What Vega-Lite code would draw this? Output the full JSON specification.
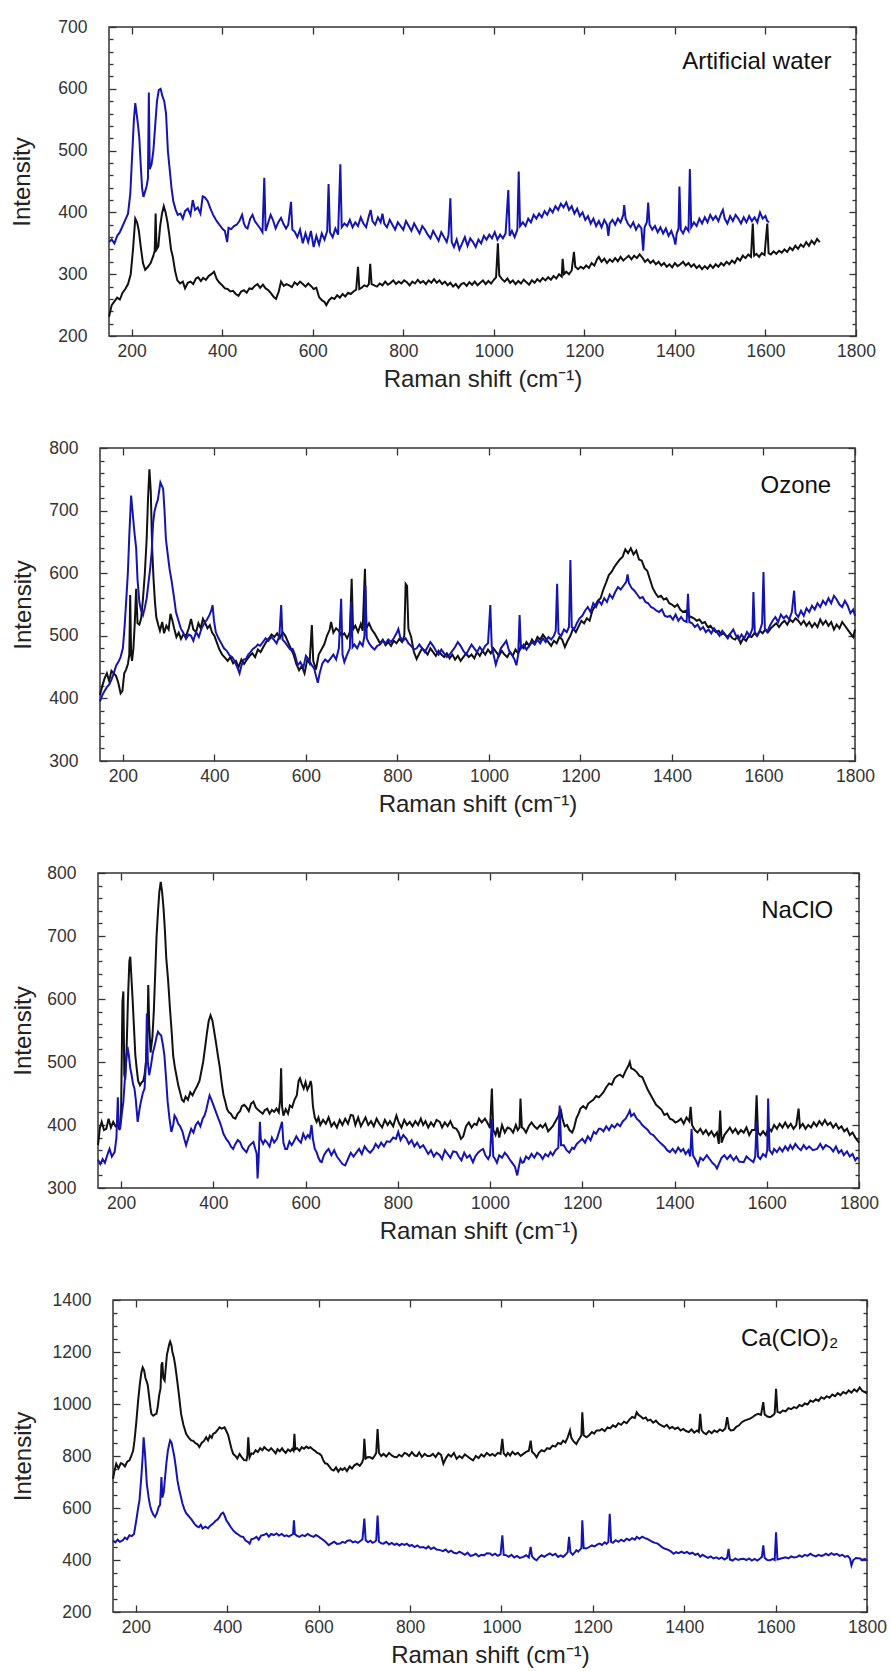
{
"$schema": "https://vega.github.io/schema/vega-lite/v6.json",
"padding": {"left": 9, "top": 17, "right": 5, "bottom": 5},
"background": "white",
"spacing": 45,
"config": {
  "view": {"stroke": "#333", "strokeWidth": 1.5},
  "axis": {"labelFont": "Liberation Sans", "titleFont": "Liberation Sans", "labelColor": "#333", "titleColor": "#222", "titleFontWeight": "normal", "labelFontSize": 17.5, "titleFontSize": 24, "tickColor": "#333", "tickWidth": 1.3, "domain": false, "grid": false, "labelOverlap": false, "labelFlush": false, "format": "d"},
  "text": {"font": "Liberation Sans"}
},
"datasets": {
"p1k": [{"x":150,"y":231},{"x":156,"y":250},{"x":162,"y":256},{"x":168,"y":262},{"x":174,"y":259},{"x":180,"y":270},{"x":186,"y":276},{"x":192,"y":284},{"x":198,"y":300},{"x":203,"y":340},{"x":208,"y":390},{"x":212,"y":384},{"x":216,"y":370},{"x":220,"y":345},{"x":225,"y":318},{"x":230,"y":307},{"x":236,"y":312},{"x":242,"y":318},{"x":248,"y":330},{"x":251,"y":338},{"x":253,"y":398},{"x":255,"y":340},{"x":259,"y":345},{"x":263,"y":378},{"x":267,"y":398},{"x":271,"y":410},{"x":275,"y":400},{"x":279,"y":385},{"x":283,"y":365},{"x":287,"y":340},{"x":291,"y":328},{"x":296,"y":305},{"x":301,"y":290},{"x":307,"y":285},{"x":313,"y":288},{"x":318,"y":277},{"x":324,"y":286},{"x":330,"y":288},{"x":336,"y":284},{"x":342,"y":293},{"x":347,"y":295},{"x":353,"y":289},{"x":358,"y":294},{"x":364,"y":291},{"x":370,"y":297},{"x":376,"y":300},{"x":382,"y":304},{"x":388,"y":292},{"x":394,"y":286},{"x":400,"y":282},{"x":406,"y":277},{"x":412,"y":276},{"x":418,"y":272},{"x":424,"y":273},{"x":430,"y":268},{"x":436,"y":265},{"x":442,"y":272},{"x":448,"y":274},{"x":454,"y":270},{"x":460,"y":277},{"x":466,"y":276},{"x":472,"y":281},{"x":478,"y":284},{"x":484,"y":278},{"x":490,"y":283},{"x":496,"y":277},{"x":502,"y":274},{"x":508,"y":269},{"x":514,"y":263},{"x":519,"y":260},{"x":525,"y":272},{"x":530,"y":288},{"x":536,"y":281},{"x":542,"y":284},{"x":548,"y":282},{"x":554,"y":279},{"x":560,"y":287},{"x":566,"y":283},{"x":572,"y":288},{"x":578,"y":284},{"x":584,"y":280},{"x":590,"y":285},{"x":596,"y":281},{"x":602,"y":276},{"x":608,"y":278},{"x":614,"y":263},{"x":620,"y":258},{"x":626,"y":255},{"x":630,"y":250},{"x":636,"y":258},{"x":642,"y":262},{"x":648,"y":260},{"x":654,"y":266},{"x":660,"y":262},{"x":666,"y":268},{"x":672,"y":264},{"x":678,"y":270},{"x":684,"y":268},{"x":690,"y":272},{"x":696,"y":275},{"x":700,"y":312},{"x":703,"y":276},{"x":708,"y":278},{"x":714,"y":282},{"x":720,"y":280},{"x":724,"y":284},{"x":727,"y":317},{"x":730,"y":284},{"x":736,"y":282},{"x":742,"y":280},{"x":748,"y":285},{"x":754,"y":282},{"x":760,"y":288},{"x":766,"y":283},{"x":772,"y":286},{"x":778,"y":290},{"x":784,"y":284},{"x":790,"y":288},{"x":796,"y":285},{"x":802,"y":290},{"x":808,"y":287},{"x":814,"y":282},{"x":820,"y":288},{"x":826,"y":285},{"x":832,"y":291},{"x":838,"y":286},{"x":844,"y":289},{"x":850,"y":284},{"x":856,"y":290},{"x":862,"y":286},{"x":868,"y":292},{"x":874,"y":286},{"x":880,"y":290},{"x":886,"y":284},{"x":892,"y":288},{"x":898,"y":282},{"x":904,"y":286},{"x":910,"y":280},{"x":916,"y":284},{"x":922,"y":278},{"x":928,"y":284},{"x":934,"y":286},{"x":940,"y":281},{"x":946,"y":287},{"x":952,"y":283},{"x":958,"y":288},{"x":964,"y":282},{"x":970,"y":286},{"x":976,"y":290},{"x":982,"y":284},{"x":988,"y":289},{"x":994,"y":285},{"x":1000,"y":291},{"x":1005,"y":295},{"x":1009,"y":350},{"x":1012,"y":298},{"x":1018,"y":292},{"x":1024,"y":288},{"x":1030,"y":293},{"x":1036,"y":286},{"x":1042,"y":290},{"x":1048,"y":284},{"x":1054,"y":289},{"x":1060,"y":285},{"x":1066,"y":291},{"x":1072,"y":287},{"x":1078,"y":283},{"x":1084,"y":290},{"x":1090,"y":286},{"x":1096,"y":292},{"x":1102,"y":288},{"x":1108,"y":294},{"x":1114,"y":290},{"x":1120,"y":295},{"x":1126,"y":291},{"x":1132,"y":297},{"x":1138,"y":293},{"x":1144,"y":300},{"x":1150,"y":296},{"x":1152,"y":325},{"x":1155,"y":300},{"x":1160,"y":304},{"x":1166,"y":300},{"x":1172,"y":306},{"x":1177,"y":336},{"x":1180,"y":312},{"x":1186,"y":308},{"x":1192,"y":312},{"x":1198,"y":309},{"x":1204,"y":314},{"x":1210,"y":310},{"x":1216,"y":318},{"x":1222,"y":314},{"x":1228,"y":324},{"x":1232,"y":328},{"x":1238,"y":320},{"x":1244,"y":325},{"x":1250,"y":318},{"x":1256,"y":324},{"x":1262,"y":320},{"x":1268,"y":326},{"x":1274,"y":321},{"x":1280,"y":328},{"x":1286,"y":322},{"x":1292,"y":326},{"x":1298,"y":330},{"x":1304,"y":324},{"x":1310,"y":330},{"x":1316,"y":326},{"x":1322,"y":332},{"x":1328,"y":327},{"x":1334,"y":320},{"x":1340,"y":324},{"x":1346,"y":318},{"x":1352,"y":322},{"x":1358,"y":316},{"x":1364,"y":320},{"x":1370,"y":314},{"x":1376,"y":318},{"x":1382,"y":312},{"x":1388,"y":316},{"x":1394,"y":311},{"x":1400,"y":318},{"x":1406,"y":313},{"x":1412,"y":316},{"x":1418,"y":320},{"x":1424,"y":314},{"x":1430,"y":318},{"x":1436,"y":312},{"x":1442,"y":316},{"x":1448,"y":310},{"x":1454,"y":314},{"x":1460,"y":308},{"x":1466,"y":313},{"x":1472,"y":309},{"x":1478,"y":315},{"x":1484,"y":310},{"x":1490,"y":316},{"x":1496,"y":312},{"x":1502,"y":318},{"x":1508,"y":314},{"x":1514,"y":320},{"x":1520,"y":316},{"x":1526,"y":322},{"x":1532,"y":318},{"x":1538,"y":326},{"x":1544,"y":322},{"x":1550,"y":330},{"x":1556,"y":326},{"x":1562,"y":332},{"x":1568,"y":328},{"x":1572,"y":382},{"x":1575,"y":330},{"x":1580,"y":333},{"x":1586,"y":328},{"x":1592,"y":334},{"x":1598,"y":331},{"x":1604,"y":382},{"x":1607,"y":334},{"x":1612,"y":332},{"x":1618,"y":337},{"x":1624,"y":333},{"x":1630,"y":338},{"x":1636,"y":335},{"x":1642,"y":340},{"x":1648,"y":336},{"x":1654,"y":343},{"x":1660,"y":339},{"x":1666,"y":346},{"x":1672,"y":341},{"x":1678,"y":348},{"x":1684,"y":344},{"x":1690,"y":352},{"x":1696,"y":346},{"x":1702,"y":354},{"x":1708,"y":349},{"x":1714,"y":357},{"x":1720,"y":352}],
"p1b": [{"x":150,"y":352},{"x":156,"y":356},{"x":162,"y":350},{"x":168,"y":362},{"x":174,"y":368},{"x":180,"y":378},{"x":186,"y":388},{"x":192,"y":398},{"x":197,"y":430},{"x":201,"y":490},{"x":205,"y":550},{"x":208,"y":577},{"x":211,"y":560},{"x":214,"y":542},{"x":217,"y":520},{"x":220,"y":478},{"x":223,"y":440},{"x":226,"y":425},{"x":229,"y":432},{"x":233,"y":442},{"x":236,"y":455},{"x":238,"y":594},{"x":240,"y":470},{"x":244,"y":478},{"x":248,"y":500},{"x":252,"y":540},{"x":256,"y":580},{"x":260,"y":598},{"x":264,"y":600},{"x":268,"y":588},{"x":272,"y":580},{"x":276,"y":560},{"x":280,"y":500},{"x":284,"y":470},{"x":288,"y":440},{"x":292,"y":418},{"x":297,"y":405},{"x":302,"y":396},{"x":308,"y":398},{"x":313,"y":390},{"x":318,"y":402},{"x":324,"y":406},{"x":330,"y":396},{"x":335,"y":420},{"x":340,"y":404},{"x":346,"y":408},{"x":352,"y":398},{"x":357,"y":426},{"x":362,"y":424},{"x":368,"y":418},{"x":374,"y":406},{"x":380,"y":396},{"x":386,"y":388},{"x":390,"y":384},{"x":396,"y":378},{"x":401,"y":373},{"x":406,"y":370},{"x":411,"y":352},{"x":414,"y":375},{"x":420,"y":373},{"x":426,"y":378},{"x":432,"y":380},{"x":438,"y":386},{"x":444,"y":396},{"x":448,"y":382},{"x":452,"y":376},{"x":456,"y":374},{"x":462,"y":390},{"x":467,"y":396},{"x":472,"y":386},{"x":478,"y":380},{"x":484,"y":374},{"x":489,"y":368},{"x":493,"y":456},{"x":496,"y":370},{"x":502,"y":384},{"x":507,"y":396},{"x":512,"y":388},{"x":518,"y":374},{"x":524,"y":384},{"x":530,"y":391},{"x":535,"y":382},{"x":541,"y":374},{"x":546,"y":380},{"x":552,"y":417},{"x":555,"y":372},{"x":560,"y":369},{"x":566,"y":360},{"x":572,"y":372},{"x":578,"y":350},{"x":584,"y":366},{"x":590,"y":352},{"x":596,"y":370},{"x":602,"y":344},{"x":608,"y":362},{"x":614,"y":348},{"x":620,"y":366},{"x":626,"y":356},{"x":632,"y":370},{"x":635,"y":446},{"x":638,"y":368},{"x":644,"y":360},{"x":650,"y":374},{"x":656,"y":364},{"x":661,"y":478},{"x":664,"y":376},{"x":670,"y":382},{"x":676,"y":378},{"x":682,"y":388},{"x":688,"y":376},{"x":694,"y":384},{"x":700,"y":378},{"x":706,"y":392},{"x":712,"y":382},{"x":718,"y":376},{"x":724,"y":394},{"x":728,"y":404},{"x":732,"y":386},{"x":738,"y":380},{"x":744,"y":392},{"x":750,"y":384},{"x":754,"y":398},{"x":758,"y":382},{"x":764,"y":376},{"x":770,"y":388},{"x":776,"y":380},{"x":782,"y":372},{"x":788,"y":384},{"x":794,"y":378},{"x":800,"y":372},{"x":806,"y":386},{"x":812,"y":378},{"x":818,"y":370},{"x":824,"y":382},{"x":830,"y":374},{"x":836,"y":366},{"x":842,"y":378},{"x":848,"y":372},{"x":854,"y":364},{"x":860,"y":358},{"x":866,"y":370},{"x":872,"y":362},{"x":878,"y":354},{"x":884,"y":368},{"x":890,"y":360},{"x":896,"y":352},{"x":900,"y":364},{"x":904,"y":423},{"x":907,"y":352},{"x":912,"y":344},{"x":918,"y":356},{"x":924,"y":340},{"x":930,"y":350},{"x":936,"y":360},{"x":942,"y":346},{"x":948,"y":358},{"x":954,"y":352},{"x":960,"y":344},{"x":966,"y":356},{"x":972,"y":350},{"x":978,"y":362},{"x":984,"y":356},{"x":990,"y":364},{"x":996,"y":358},{"x":1002,"y":368},{"x":1008,"y":356},{"x":1014,"y":364},{"x":1020,"y":358},{"x":1026,"y":366},{"x":1032,"y":436},{"x":1035,"y":362},{"x":1040,"y":370},{"x":1046,"y":360},{"x":1052,"y":372},{"x":1055,"y":466},{"x":1058,"y":378},{"x":1064,"y":384},{"x":1070,"y":378},{"x":1076,"y":390},{"x":1082,"y":384},{"x":1088,"y":396},{"x":1094,"y":390},{"x":1100,"y":398},{"x":1106,"y":392},{"x":1112,"y":402},{"x":1118,"y":396},{"x":1124,"y":406},{"x":1130,"y":400},{"x":1136,"y":410},{"x":1142,"y":404},{"x":1148,"y":414},{"x":1154,"y":408},{"x":1160,"y":416},{"x":1166,"y":404},{"x":1172,"y":410},{"x":1178,"y":398},{"x":1184,"y":406},{"x":1190,"y":394},{"x":1196,"y":400},{"x":1202,"y":388},{"x":1208,"y":394},{"x":1214,"y":382},{"x":1220,"y":390},{"x":1226,"y":378},{"x":1232,"y":386},{"x":1238,"y":376},{"x":1244,"y":388},{"x":1250,"y":380},{"x":1253,"y":362},{"x":1256,"y":382},{"x":1262,"y":388},{"x":1268,"y":380},{"x":1274,"y":390},{"x":1280,"y":384},{"x":1286,"y":396},{"x":1288,"y":412},{"x":1291,"y":390},{"x":1296,"y":382},{"x":1302,"y":376},{"x":1308,"y":384},{"x":1314,"y":372},{"x":1320,"y":380},{"x":1326,"y":374},{"x":1330,"y":338},{"x":1333,"y":376},{"x":1338,"y":384},{"x":1341,"y":416},{"x":1344,"y":380},{"x":1350,"y":372},{"x":1356,"y":378},{"x":1362,"y":368},{"x":1368,"y":376},{"x":1374,"y":366},{"x":1380,"y":374},{"x":1386,"y":362},{"x":1392,"y":370},{"x":1398,"y":358},{"x":1401,"y":348},{"x":1404,"y":366},{"x":1408,"y":374},{"x":1410,"y":442},{"x":1413,"y":372},{"x":1418,"y":366},{"x":1424,"y":376},{"x":1430,"y":370},{"x":1433,"y":470},{"x":1436,"y":376},{"x":1442,"y":384},{"x":1448,"y":378},{"x":1454,"y":390},{"x":1460,"y":382},{"x":1466,"y":392},{"x":1472,"y":384},{"x":1478,"y":396},{"x":1484,"y":388},{"x":1490,"y":394},{"x":1496,"y":386},{"x":1502,"y":398},{"x":1506,"y":404},{"x":1510,"y":390},{"x":1516,"y":382},{"x":1522,"y":394},{"x":1528,"y":386},{"x":1534,"y":396},{"x":1540,"y":390},{"x":1546,"y":382},{"x":1552,"y":392},{"x":1558,"y":384},{"x":1564,"y":394},{"x":1570,"y":386},{"x":1576,"y":392},{"x":1582,"y":384},{"x":1588,"y":400},{"x":1594,"y":390},{"x":1600,"y":394},{"x":1604,"y":386},{"x":1608,"y":384}],
"p2k": [{"x":150,"y":405},{"x":155,"y":420},{"x":160,"y":432},{"x":165,"y":440},{"x":170,"y":428},{"x":175,"y":444},{"x":180,"y":440},{"x":185,"y":436},{"x":190,"y":425},{"x":195,"y":408},{"x":199,"y":412},{"x":203,"y":440},{"x":207,"y":446},{"x":211,"y":455},{"x":214,"y":470},{"x":216,"y":565},{"x":218,"y":470},{"x":220,"y":460},{"x":223,"y":480},{"x":226,"y":520},{"x":229,"y":575},{"x":232,"y":520},{"x":236,"y":518},{"x":240,"y":528},{"x":244,"y":560},{"x":248,"y":600},{"x":252,"y":655},{"x":255,"y":720},{"x":258,"y":766},{"x":261,"y":730},{"x":264,"y":640},{"x":267,"y":591},{"x":270,"y":555},{"x":273,"y":530},{"x":277,"y":518},{"x":281,"y":508},{"x":286,"y":522},{"x":290,"y":504},{"x":295,"y":516},{"x":300,"y":510},{"x":304,"y":535},{"x":308,"y":525},{"x":312,"y":512},{"x":317,"y":498},{"x":322,"y":505},{"x":327,"y":495},{"x":332,"y":502},{"x":338,"y":500},{"x":344,"y":512},{"x":349,"y":527},{"x":354,"y":510},{"x":360,"y":506},{"x":365,"y":520},{"x":370,"y":512},{"x":375,"y":527},{"x":380,"y":520},{"x":385,"y":512},{"x":390,"y":517},{"x":395,"y":505},{"x":400,"y":500},{"x":405,"y":490},{"x":411,"y":478},{"x":417,"y":470},{"x":423,"y":465},{"x":429,"y":460},{"x":435,"y":466},{"x":441,"y":456},{"x":447,"y":460},{"x":453,"y":450},{"x":459,"y":462},{"x":465,"y":455},{"x":471,"y":462},{"x":477,"y":468},{"x":483,"y":472},{"x":489,"y":466},{"x":495,"y":478},{"x":501,"y":474},{"x":507,"y":482},{"x":513,"y":490},{"x":519,"y":496},{"x":525,"y":502},{"x":531,"y":498},{"x":537,"y":504},{"x":543,"y":496},{"x":549,"y":506},{"x":555,"y":500},{"x":561,"y":490},{"x":567,"y":480},{"x":573,"y":470},{"x":579,"y":455},{"x":585,"y":445},{"x":591,"y":452},{"x":597,"y":440},{"x":603,"y":462},{"x":608,"y":456},{"x":613,"y":517},{"x":616,"y":460},{"x":622,"y":446},{"x":628,"y":470},{"x":634,"y":478},{"x":640,"y":486},{"x":646,"y":500},{"x":652,"y":510},{"x":655,"y":522},{"x":660,"y":505},{"x":666,"y":512},{"x":672,"y":508},{"x":678,"y":500},{"x":684,"y":504},{"x":690,"y":496},{"x":696,"y":506},{"x":700,"y":591},{"x":703,"y":510},{"x":708,"y":516},{"x":714,"y":506},{"x":720,"y":519},{"x":724,"y":508},{"x":729,"y":607},{"x":732,"y":512},{"x":738,"y":520},{"x":744,"y":510},{"x":750,"y":504},{"x":756,"y":496},{"x":762,"y":488},{"x":768,"y":494},{"x":774,"y":485},{"x":780,"y":490},{"x":786,"y":484},{"x":792,"y":492},{"x":798,"y":488},{"x":804,"y":495},{"x":810,"y":490},{"x":815,"y":500},{"x":818,"y":583},{"x":821,"y":580},{"x":824,"y":511},{"x":830,"y":498},{"x":836,"y":474},{"x":842,"y":463},{"x":848,"y":472},{"x":854,"y":480},{"x":860,"y":476},{"x":866,"y":470},{"x":872,"y":480},{"x":878,"y":474},{"x":884,"y":468},{"x":890,"y":476},{"x":896,"y":470},{"x":902,"y":466},{"x":908,"y":472},{"x":914,"y":464},{"x":920,"y":470},{"x":926,"y":462},{"x":932,"y":468},{"x":938,"y":460},{"x":944,"y":466},{"x":950,"y":472},{"x":956,"y":466},{"x":962,"y":470},{"x":968,"y":464},{"x":974,"y":474},{"x":980,"y":468},{"x":986,"y":476},{"x":992,"y":470},{"x":998,"y":478},{"x":1004,"y":472},{"x":1010,"y":480},{"x":1016,"y":474},{"x":1022,"y":468},{"x":1028,"y":476},{"x":1034,"y":470},{"x":1040,"y":466},{"x":1046,"y":474},{"x":1052,"y":468},{"x":1058,"y":478},{"x":1064,"y":472},{"x":1070,"y":484},{"x":1076,"y":480},{"x":1082,"y":490},{"x":1088,"y":484},{"x":1094,"y":494},{"x":1100,"y":488},{"x":1106,"y":498},{"x":1112,"y":494},{"x":1118,"y":502},{"x":1124,"y":496},{"x":1130,"y":490},{"x":1136,"y":484},{"x":1142,"y":492},{"x":1148,"y":488},{"x":1154,"y":498},{"x":1160,"y":494},{"x":1166,"y":482},{"x":1172,"y":492},{"x":1178,"y":500},{"x":1184,"y":512},{"x":1190,"y":506},{"x":1196,"y":515},{"x":1202,"y":524},{"x":1208,"y":520},{"x":1214,"y":528},{"x":1220,"y":524},{"x":1226,"y":540},{"x":1232,"y":548},{"x":1238,"y":556},{"x":1244,"y":560},{"x":1250,"y":574},{"x":1256,"y":585},{"x":1262,"y":597},{"x":1268,"y":602},{"x":1274,"y":610},{"x":1280,"y":616},{"x":1286,"y":622},{"x":1292,"y":626},{"x":1298,"y":638},{"x":1304,"y":632},{"x":1310,"y":640},{"x":1316,"y":630},{"x":1322,"y":636},{"x":1328,"y":622},{"x":1334,"y":620},{"x":1340,"y":608},{"x":1346,"y":604},{"x":1352,"y":590},{"x":1358,"y":576},{"x":1364,"y":568},{"x":1370,"y":562},{"x":1376,"y":564},{"x":1382,"y":558},{"x":1388,"y":560},{"x":1394,"y":552},{"x":1400,"y":550},{"x":1406,"y":546},{"x":1412,"y":550},{"x":1418,"y":542},{"x":1424,"y":538},{"x":1430,"y":540},{"x":1436,"y":532},{"x":1442,"y":530},{"x":1448,"y":528},{"x":1454,"y":524},{"x":1460,"y":526},{"x":1466,"y":520},{"x":1472,"y":522},{"x":1478,"y":514},{"x":1484,"y":516},{"x":1490,"y":510},{"x":1496,"y":506},{"x":1502,"y":508},{"x":1508,"y":502},{"x":1514,"y":504},{"x":1520,"y":498},{"x":1526,"y":502},{"x":1532,"y":496},{"x":1538,"y":494},{"x":1544,"y":500},{"x":1550,"y":488},{"x":1556,"y":496},{"x":1562,"y":492},{"x":1568,"y":500},{"x":1574,"y":498},{"x":1580,"y":504},{"x":1586,"y":500},{"x":1592,"y":508},{"x":1598,"y":504},{"x":1604,"y":510},{"x":1610,"y":506},{"x":1616,"y":512},{"x":1622,"y":516},{"x":1628,"y":520},{"x":1634,"y":514},{"x":1640,"y":520},{"x":1646,"y":524},{"x":1652,"y":518},{"x":1658,"y":526},{"x":1664,"y":522},{"x":1670,"y":528},{"x":1676,"y":524},{"x":1682,"y":518},{"x":1688,"y":524},{"x":1694,"y":516},{"x":1700,"y":522},{"x":1706,"y":514},{"x":1712,"y":520},{"x":1718,"y":514},{"x":1724,"y":526},{"x":1730,"y":518},{"x":1736,"y":524},{"x":1742,"y":516},{"x":1748,"y":522},{"x":1754,"y":510},{"x":1760,"y":518},{"x":1766,"y":512},{"x":1772,"y":522},{"x":1778,"y":516},{"x":1784,"y":510},{"x":1790,"y":504},{"x":1796,"y":498},{"x":1800,"y":510}],
"p2b": [{"x":150,"y":395},{"x":155,"y":405},{"x":160,"y":412},{"x":165,"y":418},{"x":170,"y":422},{"x":175,"y":430},{"x":180,"y":440},{"x":185,"y":452},{"x":190,"y":458},{"x":195,"y":466},{"x":200,"y":480},{"x":204,"y":517},{"x":208,"y":565},{"x":211,"y":602},{"x":214,"y":660},{"x":218,"y":724},{"x":221,"y":700},{"x":224,"y":675},{"x":226,"y":660},{"x":229,"y":640},{"x":232,"y":590},{"x":236,"y":554},{"x":240,"y":540},{"x":244,"y":533},{"x":248,"y":545},{"x":252,"y":560},{"x":256,"y":585},{"x":260,"y":610},{"x":263,"y":634},{"x":266,"y":680},{"x":269,"y":698},{"x":273,"y":710},{"x":276,"y":716},{"x":279,"y":730},{"x":282,"y":745},{"x":285,"y":740},{"x":288,"y":735},{"x":291,"y":700},{"x":294,"y":655},{"x":298,"y":630},{"x":302,"y":607},{"x":306,"y":590},{"x":309,"y":575},{"x":313,"y":555},{"x":316,"y":538},{"x":320,"y":528},{"x":324,"y":518},{"x":327,"y":511},{"x":332,"y":505},{"x":338,"y":495},{"x":344,"y":502},{"x":349,"y":500},{"x":354,"y":492},{"x":360,"y":506},{"x":366,"y":498},{"x":372,"y":512},{"x":378,"y":520},{"x":384,"y":526},{"x":389,"y":533},{"x":393,"y":540},{"x":396,"y":549},{"x":399,"y":525},{"x":403,"y":506},{"x":409,"y":496},{"x":415,"y":488},{"x":421,"y":480},{"x":427,"y":476},{"x":433,"y":469},{"x":439,"y":466},{"x":444,"y":460},{"x":448,"y":453},{"x":452,"y":446},{"x":455,"y":440},{"x":459,"y":452},{"x":464,"y":462},{"x":469,"y":463},{"x":474,"y":470},{"x":479,"y":474},{"x":484,"y":479},{"x":490,"y":482},{"x":495,"y":486},{"x":500,"y":484},{"x":506,"y":490},{"x":512,"y":496},{"x":518,"y":492},{"x":524,"y":498},{"x":530,"y":494},{"x":536,"y":488},{"x":542,"y":500},{"x":546,"y":549},{"x":549,"y":494},{"x":554,"y":490},{"x":560,"y":484},{"x":566,"y":478},{"x":571,"y":479},{"x":576,"y":470},{"x":582,"y":453},{"x":588,"y":458},{"x":594,"y":448},{"x":600,"y":468},{"x":606,"y":462},{"x":612,"y":454},{"x":618,"y":448},{"x":622,"y":436},{"x":626,"y":425},{"x":630,"y":440},{"x":636,"y":456},{"x":642,"y":462},{"x":648,"y":458},{"x":654,"y":464},{"x":660,"y":470},{"x":666,"y":462},{"x":672,"y":480},{"x":677,"y":559},{"x":680,"y":470},{"x":684,"y":458},{"x":690,"y":470},{"x":696,"y":480},{"x":699,"y":554},{"x":702,"y":482},{"x":706,"y":486},{"x":712,"y":480},{"x":718,"y":490},{"x":724,"y":484},{"x":728,"y":500},{"x":730,"y":580},{"x":733,"y":496},{"x":738,"y":488},{"x":744,"y":482},{"x":750,"y":478},{"x":756,"y":484},{"x":762,"y":486},{"x":768,"y":492},{"x":774,"y":488},{"x":780,"y":494},{"x":786,"y":490},{"x":792,"y":496},{"x":798,"y":504},{"x":802,"y":511},{"x":806,"y":498},{"x":812,"y":492},{"x":818,"y":496},{"x":824,"y":488},{"x":830,"y":484},{"x":836,"y":478},{"x":842,"y":480},{"x":848,"y":486},{"x":854,"y":480},{"x":860,"y":474},{"x":866,"y":482},{"x":872,"y":490},{"x":878,"y":484},{"x":884,"y":476},{"x":890,"y":470},{"x":896,"y":478},{"x":902,"y":472},{"x":908,"y":466},{"x":914,"y":470},{"x":920,"y":476},{"x":926,"y":482},{"x":932,"y":490},{"x":938,"y":484},{"x":944,"y":476},{"x":950,"y":470},{"x":956,"y":478},{"x":962,"y":486},{"x":968,"y":480},{"x":974,"y":474},{"x":980,"y":482},{"x":986,"y":476},{"x":992,"y":484},{"x":998,"y":488},{"x":1003,"y":549},{"x":1006,"y":484},{"x":1010,"y":470},{"x":1015,"y":454},{"x":1020,"y":466},{"x":1026,"y":480},{"x":1032,"y":486},{"x":1038,"y":492},{"x":1044,"y":476},{"x":1050,"y":470},{"x":1056,"y":462},{"x":1060,"y":453},{"x":1064,"y":470},{"x":1067,"y":533},{"x":1070,"y":480},{"x":1076,"y":486},{"x":1082,"y":478},{"x":1088,"y":484},{"x":1094,"y":490},{"x":1100,"y":486},{"x":1106,"y":494},{"x":1112,"y":488},{"x":1118,"y":496},{"x":1124,"y":490},{"x":1130,"y":498},{"x":1136,"y":494},{"x":1142,"y":500},{"x":1146,"y":508},{"x":1149,"y":583},{"x":1152,"y":504},{"x":1158,"y":500},{"x":1164,"y":510},{"x":1170,"y":506},{"x":1175,"y":514},{"x":1178,"y":621},{"x":1181,"y":514},{"x":1186,"y":510},{"x":1192,"y":520},{"x":1198,"y":528},{"x":1204,"y":532},{"x":1210,"y":540},{"x":1216,"y":546},{"x":1222,"y":538},{"x":1228,"y":552},{"x":1234,"y":546},{"x":1240,"y":556},{"x":1246,"y":550},{"x":1252,"y":560},{"x":1258,"y":554},{"x":1264,"y":566},{"x":1270,"y":560},{"x":1276,"y":570},{"x":1282,"y":578},{"x":1288,"y":574},{"x":1294,"y":580},{"x":1300,"y":586},{"x":1303,"y":598},{"x":1306,"y":584},{"x":1312,"y":576},{"x":1318,"y":572},{"x":1324,"y":566},{"x":1330,"y":560},{"x":1336,"y":562},{"x":1342,"y":554},{"x":1348,"y":552},{"x":1354,"y":546},{"x":1360,"y":544},{"x":1366,"y":540},{"x":1372,"y":538},{"x":1378,"y":542},{"x":1384,"y":532},{"x":1390,"y":530},{"x":1396,"y":532},{"x":1402,"y":526},{"x":1408,"y":534},{"x":1414,"y":524},{"x":1420,"y":530},{"x":1426,"y":524},{"x":1432,"y":522},{"x":1435,"y":567},{"x":1438,"y":522},{"x":1444,"y":520},{"x":1450,"y":514},{"x":1456,"y":518},{"x":1462,"y":510},{"x":1468,"y":514},{"x":1474,"y":506},{"x":1480,"y":510},{"x":1486,"y":504},{"x":1492,"y":512},{"x":1498,"y":506},{"x":1504,"y":500},{"x":1510,"y":508},{"x":1516,"y":502},{"x":1522,"y":496},{"x":1528,"y":504},{"x":1534,"y":510},{"x":1540,"y":500},{"x":1546,"y":494},{"x":1552,"y":502},{"x":1558,"y":496},{"x":1564,"y":506},{"x":1570,"y":500},{"x":1576,"y":512},{"x":1578,"y":570},{"x":1581,"y":506},{"x":1586,"y":500},{"x":1592,"y":508},{"x":1597,"y":520},{"x":1600,"y":602},{"x":1603,"y":512},{"x":1608,"y":506},{"x":1614,"y":516},{"x":1620,"y":524},{"x":1626,"y":530},{"x":1632,"y":522},{"x":1638,"y":534},{"x":1644,"y":528},{"x":1650,"y":532},{"x":1656,"y":526},{"x":1662,"y":538},{"x":1667,"y":572},{"x":1670,"y":536},{"x":1676,"y":530},{"x":1682,"y":540},{"x":1688,"y":532},{"x":1694,"y":544},{"x":1700,"y":538},{"x":1706,"y":548},{"x":1712,"y":542},{"x":1718,"y":552},{"x":1724,"y":546},{"x":1730,"y":556},{"x":1736,"y":550},{"x":1742,"y":560},{"x":1748,"y":552},{"x":1754,"y":564},{"x":1760,"y":558},{"x":1766,"y":550},{"x":1772,"y":546},{"x":1778,"y":556},{"x":1784,"y":548},{"x":1790,"y":536},{"x":1796,"y":542},{"x":1800,"y":532}],
"p3k": [{"x":150,"y":368},{"x":154,"y":395},{"x":158,"y":405},{"x":163,"y":392},{"x":168,"y":394},{"x":173,"y":410},{"x":178,"y":396},{"x":183,"y":405},{"x":188,"y":398},{"x":193,"y":400},{"x":197,"y":392},{"x":200,"y":420},{"x":203,"y":595},{"x":205,"y":612},{"x":207,"y":480},{"x":209,"y":472},{"x":212,"y":520},{"x":215,"y":600},{"x":218,"y":660},{"x":220,"y":667},{"x":222,"y":640},{"x":225,"y":600},{"x":228,"y":555},{"x":231,"y":510},{"x":234,"y":489},{"x":237,"y":470},{"x":241,"y":463},{"x":245,"y":468},{"x":248,"y":470},{"x":251,"y":480},{"x":254,"y":500},{"x":257,"y":540},{"x":259,"y":622},{"x":261,"y":560},{"x":264,"y":515},{"x":268,"y":540},{"x":271,"y":580},{"x":274,"y":640},{"x":277,"y":700},{"x":280,"y":738},{"x":283,"y":770},{"x":286,"y":786},{"x":289,"y":770},{"x":292,"y":745},{"x":295,"y":710},{"x":298,"y":665},{"x":302,"y":630},{"x":306,"y":585},{"x":310,"y":545},{"x":313,"y":510},{"x":317,"y":490},{"x":321,"y":475},{"x":324,"y":463},{"x":328,"y":452},{"x":332,"y":440},{"x":336,"y":437},{"x":340,"y":445},{"x":345,"y":440},{"x":350,"y":452},{"x":355,"y":447},{"x":360,"y":455},{"x":365,"y":462},{"x":370,"y":470},{"x":374,"y":485},{"x":378,"y":500},{"x":382,"y":522},{"x":386,"y":545},{"x":390,"y":565},{"x":394,"y":574},{"x":398,"y":566},{"x":402,"y":548},{"x":406,"y":530},{"x":410,"y":510},{"x":414,"y":492},{"x":418,"y":468},{"x":422,"y":448},{"x":426,"y":437},{"x":430,"y":425},{"x":434,"y":420},{"x":438,"y":418},{"x":443,"y":412},{"x":448,"y":410},{"x":453,"y":418},{"x":458,"y":422},{"x":462,"y":430},{"x":467,"y":432},{"x":472,"y":428},{"x":477,"y":422},{"x":482,"y":434},{"x":487,"y":437},{"x":492,"y":428},{"x":497,"y":424},{"x":502,"y":421},{"x":507,"y":418},{"x":512,"y":424},{"x":517,"y":426},{"x":522,"y":418},{"x":527,"y":424},{"x":532,"y":421},{"x":537,"y":426},{"x":542,"y":420},{"x":545,"y":440},{"x":547,"y":490},{"x":549,"y":430},{"x":552,"y":415},{"x":557,"y":425},{"x":562,"y":418},{"x":566,"y":431},{"x":571,"y":428},{"x":576,"y":440},{"x":581,"y":447},{"x":585,"y":470},{"x":588,"y":474},{"x":592,"y":465},{"x":596,"y":458},{"x":600,"y":468},{"x":604,"y":456},{"x":608,"y":462},{"x":611,"y":470},{"x":613,"y":463},{"x":616,"y":430},{"x":620,"y":412},{"x":624,"y":405},{"x":628,"y":412},{"x":632,"y":400},{"x":638,"y":408},{"x":644,"y":402},{"x":650,"y":412},{"x":656,"y":398},{"x":662,"y":404},{"x":668,"y":396},{"x":674,"y":408},{"x":680,"y":400},{"x":686,"y":410},{"x":692,"y":402},{"x":698,"y":416},{"x":703,"y":415},{"x":708,"y":400},{"x":714,"y":412},{"x":720,"y":398},{"x":725,"y":405},{"x":730,"y":412},{"x":736,"y":400},{"x":742,"y":406},{"x":748,"y":398},{"x":754,"y":410},{"x":760,"y":402},{"x":766,"y":396},{"x":772,"y":408},{"x":778,"y":400},{"x":783,"y":406},{"x":790,"y":398},{"x":797,"y":415},{"x":802,"y":404},{"x":808,"y":396},{"x":814,"y":408},{"x":820,"y":400},{"x":826,"y":405},{"x":832,"y":398},{"x":838,"y":406},{"x":844,"y":400},{"x":850,"y":410},{"x":855,"y":400},{"x":860,"y":406},{"x":866,"y":396},{"x":872,"y":404},{"x":878,"y":398},{"x":884,"y":408},{"x":891,"y":405},{"x":896,"y":396},{"x":902,"y":404},{"x":908,"y":398},{"x":914,"y":406},{"x":920,"y":396},{"x":927,"y":394},{"x":932,"y":388},{"x":937,"y":378},{"x":942,"y":382},{"x":948,"y":398},{"x":954,"y":404},{"x":960,"y":396},{"x":966,"y":402},{"x":971,"y":400},{"x":976,"y":410},{"x":982,"y":404},{"x":989,"y":410},{"x":994,"y":404},{"x":1000,"y":395},{"x":1004,"y":458},{"x":1007,"y":392},{"x":1012,"y":384},{"x":1016,"y":396},{"x":1020,"y":380},{"x":1026,"y":400},{"x":1032,"y":388},{"x":1038,"y":396},{"x":1044,"y":394},{"x":1050,"y":388},{"x":1056,"y":400},{"x":1060,"y":392},{"x":1064,"y":396},{"x":1066,"y":442},{"x":1069,"y":396},{"x":1073,"y":394},{"x":1078,"y":388},{"x":1084,"y":398},{"x":1090,"y":404},{"x":1096,"y":398},{"x":1102,"y":394},{"x":1109,"y":400},{"x":1114,"y":396},{"x":1120,"y":402},{"x":1126,"y":390},{"x":1131,"y":394},{"x":1136,"y":398},{"x":1142,"y":406},{"x":1148,"y":414},{"x":1153,"y":426},{"x":1157,"y":410},{"x":1162,"y":398},{"x":1167,"y":400},{"x":1172,"y":392},{"x":1178,"y":388},{"x":1182,"y":395},{"x":1187,"y":410},{"x":1192,"y":418},{"x":1196,"y":426},{"x":1202,"y":430},{"x":1208,"y":426},{"x":1213,"y":434},{"x":1218,"y":437},{"x":1224,"y":440},{"x":1230,"y":446},{"x":1236,"y":444},{"x":1240,"y":447},{"x":1246,"y":452},{"x":1252,"y":460},{"x":1258,"y":466},{"x":1264,"y":464},{"x":1270,"y":474},{"x":1276,"y":478},{"x":1282,"y":480},{"x":1288,"y":476},{"x":1294,"y":486},{"x":1300,"y":494},{"x":1303,"y":500},{"x":1306,"y":490},{"x":1312,"y":488},{"x":1318,"y":484},{"x":1324,"y":478},{"x":1330,"y":476},{"x":1336,"y":466},{"x":1342,"y":456},{"x":1348,"y":448},{"x":1354,"y":440},{"x":1360,"y":432},{"x":1366,"y":428},{"x":1372,"y":424},{"x":1378,"y":416},{"x":1384,"y":418},{"x":1390,"y":410},{"x":1396,"y":408},{"x":1402,"y":404},{"x":1408,"y":406},{"x":1414,"y":410},{"x":1420,"y":402},{"x":1426,"y":412},{"x":1432,"y":406},{"x":1435,"y":429},{"x":1438,"y":400},{"x":1444,"y":392},{"x":1450,"y":388},{"x":1456,"y":394},{"x":1462,"y":386},{"x":1468,"y":392},{"x":1474,"y":384},{"x":1480,"y":390},{"x":1486,"y":382},{"x":1492,"y":388},{"x":1496,"y":370},{"x":1499,"y":423},{"x":1502,"y":372},{"x":1508,"y":384},{"x":1514,"y":390},{"x":1520,"y":396},{"x":1526,"y":388},{"x":1532,"y":394},{"x":1538,"y":386},{"x":1544,"y":392},{"x":1550,"y":388},{"x":1556,"y":396},{"x":1562,"y":384},{"x":1568,"y":392},{"x":1575,"y":392},{"x":1578,"y":447},{"x":1581,"y":388},{"x":1586,"y":384},{"x":1592,"y":390},{"x":1598,"y":384},{"x":1604,"y":396},{"x":1610,"y":390},{"x":1616,"y":400},{"x":1622,"y":394},{"x":1628,"y":402},{"x":1634,"y":396},{"x":1640,"y":404},{"x":1646,"y":396},{"x":1652,"y":402},{"x":1658,"y":394},{"x":1664,"y":400},{"x":1669,"y":426},{"x":1672,"y":396},{"x":1678,"y":402},{"x":1684,"y":394},{"x":1690,"y":400},{"x":1696,"y":396},{"x":1702,"y":404},{"x":1708,"y":398},{"x":1714,"y":406},{"x":1720,"y":400},{"x":1726,"y":408},{"x":1732,"y":400},{"x":1738,"y":404},{"x":1744,"y":396},{"x":1750,"y":402},{"x":1756,"y":394},{"x":1762,"y":398},{"x":1768,"y":390},{"x":1774,"y":394},{"x":1780,"y":384},{"x":1786,"y":388},{"x":1792,"y":380},{"x":1796,"y":376},{"x":1800,"y":372}],
"p3b": [{"x":150,"y":345},{"x":155,"y":338},{"x":160,"y":346},{"x":165,"y":340},{"x":170,"y":352},{"x":175,"y":362},{"x":180,"y":350},{"x":186,"y":357},{"x":190,"y":380},{"x":193,"y":444},{"x":195,"y":400},{"x":198,"y":394},{"x":202,"y":420},{"x":205,"y":437},{"x":208,"y":470},{"x":211,"y":500},{"x":214,"y":524},{"x":217,"y":510},{"x":220,"y":490},{"x":223,"y":479},{"x":226,"y":465},{"x":229,"y":458},{"x":232,"y":440},{"x":236,"y":405},{"x":240,"y":425},{"x":243,"y":437},{"x":247,"y":450},{"x":251,"y":458},{"x":254,"y":500},{"x":256,"y":577},{"x":258,"y":500},{"x":261,"y":479},{"x":265,"y":495},{"x":269,"y":515},{"x":273,"y":526},{"x":277,"y":540},{"x":280,"y":548},{"x":284,"y":544},{"x":287,"y":542},{"x":291,"y":526},{"x":294,"y":510},{"x":298,"y":470},{"x":301,"y":437},{"x":305,"y":410},{"x":309,"y":389},{"x":313,"y":400},{"x":316,"y":415},{"x":320,"y":410},{"x":324,"y":402},{"x":328,"y":398},{"x":333,"y":390},{"x":337,"y":378},{"x":341,"y":368},{"x":346,"y":380},{"x":352,"y":394},{"x":357,"y":388},{"x":362,"y":400},{"x":367,"y":405},{"x":372,"y":398},{"x":377,"y":410},{"x":381,"y":415},{"x":385,"y":425},{"x":389,"y":438},{"x":392,"y":447},{"x":396,"y":440},{"x":400,"y":432},{"x":403,"y":426},{"x":407,"y":418},{"x":411,"y":410},{"x":414,"y":405},{"x":418,"y":396},{"x":422,"y":386},{"x":428,"y":378},{"x":434,"y":372},{"x":438,"y":366},{"x":443,"y":362},{"x":448,"y":370},{"x":453,"y":376},{"x":458,"y":373},{"x":463,"y":364},{"x":468,"y":360},{"x":472,"y":357},{"x":477,"y":366},{"x":482,"y":370},{"x":487,"y":373},{"x":491,"y":362},{"x":494,"y":355},{"x":496,"y":315},{"x":498,"y":340},{"x":501,"y":405},{"x":503,"y":378},{"x":508,"y":370},{"x":512,"y":376},{"x":516,"y":373},{"x":522,"y":366},{"x":527,"y":380},{"x":532,"y":372},{"x":538,"y":378},{"x":543,"y":390},{"x":549,"y":405},{"x":552,"y":372},{"x":556,"y":362},{"x":560,"y":362},{"x":565,"y":374},{"x":570,"y":368},{"x":574,"y":373},{"x":580,"y":382},{"x":585,"y":376},{"x":590,"y":372},{"x":595,"y":386},{"x":600,"y":378},{"x":605,"y":384},{"x":609,"y":380},{"x":613,"y":400},{"x":616,"y":378},{"x":620,"y":362},{"x":624,"y":357},{"x":628,"y":348},{"x":632,"y":342},{"x":635,"y":341},{"x":640,"y":352},{"x":645,"y":358},{"x":650,"y":362},{"x":656,"y":352},{"x":662,"y":360},{"x":668,"y":350},{"x":674,"y":344},{"x":680,"y":338},{"x":686,"y":336},{"x":692,"y":346},{"x":698,"y":356},{"x":704,"y":350},{"x":711,"y":357},{"x":716,"y":362},{"x":722,"y":354},{"x":728,"y":366},{"x":734,"y":360},{"x":740,"y":356},{"x":747,"y":362},{"x":752,"y":370},{"x":758,"y":364},{"x":764,"y":372},{"x":770,"y":366},{"x":776,"y":374},{"x":783,"y":373},{"x":790,"y":380},{"x":796,"y":378},{"x":801,"y":389},{"x":806,"y":376},{"x":812,"y":384},{"x":819,"y":378},{"x":824,"y":370},{"x":830,"y":376},{"x":836,"y":366},{"x":842,"y":372},{"x":848,"y":364},{"x":855,"y":368},{"x":860,"y":362},{"x":866,"y":354},{"x":872,"y":360},{"x":878,"y":350},{"x":884,"y":356},{"x":891,"y":352},{"x":896,"y":346},{"x":902,"y":360},{"x":908,"y":354},{"x":914,"y":348},{"x":920,"y":358},{"x":927,"y":357},{"x":932,"y":350},{"x":938,"y":344},{"x":944,"y":356},{"x":950,"y":348},{"x":956,"y":352},{"x":963,"y":341},{"x":968,"y":350},{"x":974,"y":356},{"x":980,"y":360},{"x":985,"y":362},{"x":990,"y":352},{"x":996,"y":346},{"x":1000,"y":352},{"x":1004,"y":410},{"x":1007,"y":350},{"x":1011,"y":346},{"x":1015,"y":340},{"x":1020,"y":352},{"x":1026,"y":348},{"x":1032,"y":356},{"x":1037,"y":352},{"x":1042,"y":346},{"x":1048,"y":340},{"x":1054,"y":334},{"x":1059,"y":320},{"x":1062,"y":332},{"x":1066,"y":346},{"x":1070,"y":340},{"x":1073,"y":341},{"x":1078,"y":350},{"x":1084,"y":346},{"x":1090,"y":354},{"x":1096,"y":348},{"x":1102,"y":356},{"x":1109,"y":352},{"x":1114,"y":346},{"x":1120,"y":354},{"x":1126,"y":350},{"x":1131,"y":357},{"x":1136,"y":352},{"x":1142,"y":360},{"x":1148,"y":364},{"x":1151,"y":431},{"x":1154,"y":368},{"x":1160,"y":368},{"x":1166,"y":360},{"x":1172,"y":356},{"x":1178,"y":364},{"x":1182,"y":362},{"x":1188,"y":370},{"x":1194,"y":374},{"x":1200,"y":378},{"x":1206,"y":372},{"x":1212,"y":382},{"x":1218,"y":376},{"x":1225,"y":389},{"x":1230,"y":386},{"x":1236,"y":394},{"x":1240,"y":394},{"x":1246,"y":390},{"x":1252,"y":398},{"x":1258,"y":392},{"x":1264,"y":400},{"x":1270,"y":396},{"x":1276,"y":402},{"x":1282,"y":398},{"x":1288,"y":406},{"x":1294,"y":410},{"x":1300,"y":418},{"x":1303,"y":423},{"x":1306,"y":414},{"x":1312,"y":418},{"x":1318,"y":410},{"x":1324,"y":406},{"x":1330,"y":400},{"x":1336,"y":396},{"x":1342,"y":392},{"x":1348,"y":386},{"x":1354,"y":384},{"x":1361,"y":378},{"x":1366,"y":374},{"x":1372,"y":370},{"x":1378,"y":366},{"x":1384,"y":360},{"x":1390,"y":357},{"x":1396,"y":362},{"x":1402,"y":356},{"x":1408,"y":364},{"x":1414,"y":358},{"x":1419,"y":362},{"x":1424,"y":354},{"x":1430,"y":360},{"x":1434,"y":350},{"x":1437,"y":394},{"x":1440,"y":352},{"x":1446,"y":344},{"x":1451,"y":336},{"x":1456,"y":348},{"x":1462,"y":344},{"x":1470,"y":352},{"x":1476,"y":346},{"x":1482,"y":340},{"x":1488,"y":336},{"x":1492,"y":331},{"x":1496,"y":338},{"x":1502,"y":348},{"x":1508,"y":352},{"x":1514,"y":346},{"x":1521,"y":352},{"x":1528,"y":344},{"x":1534,"y":350},{"x":1540,"y":342},{"x":1550,"y":341},{"x":1556,"y":350},{"x":1562,"y":346},{"x":1571,"y":341},{"x":1575,"y":350},{"x":1578,"y":405},{"x":1581,"y":350},{"x":1586,"y":346},{"x":1592,"y":354},{"x":1598,"y":350},{"x":1601,"y":360},{"x":1603,"y":442},{"x":1606,"y":360},{"x":1612,"y":354},{"x":1616,"y":362},{"x":1622,"y":357},{"x":1628,"y":364},{"x":1634,"y":358},{"x":1640,"y":366},{"x":1646,"y":360},{"x":1651,"y":368},{"x":1656,"y":362},{"x":1662,"y":370},{"x":1668,"y":364},{"x":1674,"y":360},{"x":1680,"y":368},{"x":1686,"y":362},{"x":1692,"y":366},{"x":1700,"y":360},{"x":1709,"y":362},{"x":1716,"y":370},{"x":1722,"y":362},{"x":1728,"y":368},{"x":1738,"y":364},{"x":1744,"y":358},{"x":1750,"y":366},{"x":1756,"y":356},{"x":1762,"y":360},{"x":1767,"y":352},{"x":1774,"y":358},{"x":1780,"y":350},{"x":1786,"y":354},{"x":1792,"y":344},{"x":1796,"y":348},{"x":1800,"y":346}],
"p4k": [{"x":150,"y":712},{"x":153,"y":740},{"x":157,"y":770},{"x":162,"y":752},{"x":167,"y":772},{"x":171,"y":770},{"x":176,"y":760},{"x":181,"y":778},{"x":186,"y":783},{"x":190,"y":800},{"x":194,"y":820},{"x":197,"y":859},{"x":201,"y":930},{"x":205,"y":1013},{"x":209,"y":1080},{"x":212,"y":1120},{"x":215,"y":1141},{"x":218,"y":1130},{"x":221,"y":1100},{"x":224,"y":1085},{"x":226,"y":1073},{"x":229,"y":1030},{"x":232,"y":985},{"x":234,"y":962},{"x":238,"y":955},{"x":242,"y":960},{"x":245,"y":962},{"x":248,"y":990},{"x":251,"y":1033},{"x":254,"y":1060},{"x":256,"y":1150},{"x":258,"y":1160},{"x":260,"y":1100},{"x":263,"y":1090},{"x":266,"y":1150},{"x":268,"y":1190},{"x":270,"y":1205},{"x":273,"y":1230},{"x":275,"y":1240},{"x":278,"y":1225},{"x":280,"y":1200},{"x":283,"y":1180},{"x":286,"y":1150},{"x":290,"y":1097},{"x":294,"y":1040},{"x":299,"y":962},{"x":304,"y":920},{"x":310,"y":885},{"x":316,"y":870},{"x":321,"y":860},{"x":325,"y":859},{"x":330,"y":850},{"x":335,"y":845},{"x":339,"y":834},{"x":344,"y":850},{"x":349,"y":858},{"x":354,"y":872},{"x":358,"y":860},{"x":362,"y":878},{"x":366,"y":870},{"x":369,"y":885},{"x":374,"y":890},{"x":379,"y":900},{"x":383,"y":910},{"x":388,"y":905},{"x":394,"y":910},{"x":398,"y":896},{"x":402,"y":880},{"x":405,"y":859},{"x":409,"y":830},{"x":413,"y":808},{"x":418,"y":800},{"x":422,"y":790},{"x":427,"y":808},{"x":432,"y":795},{"x":437,"y":784},{"x":442,"y":783},{"x":444,"y":800},{"x":446,"y":872},{"x":449,"y":795},{"x":453,"y":810},{"x":457,"y":808},{"x":462,"y":822},{"x":467,"y":815},{"x":472,"y":830},{"x":477,"y":822},{"x":481,"y":834},{"x":486,"y":826},{"x":491,"y":820},{"x":496,"y":830},{"x":501,"y":821},{"x":506,"y":810},{"x":510,"y":826},{"x":515,"y":818},{"x":520,"y":830},{"x":523,"y":821},{"x":528,"y":812},{"x":533,"y":825},{"x":538,"y":818},{"x":542,"y":827},{"x":545,"y":820},{"x":547,"y":885},{"x":549,"y":826},{"x":553,"y":830},{"x":558,"y":820},{"x":563,"y":834},{"x":568,"y":828},{"x":573,"y":836},{"x":578,"y":830},{"x":582,"y":834},{"x":587,"y":826},{"x":592,"y":820},{"x":597,"y":812},{"x":602,"y":808},{"x":606,"y":802},{"x":610,"y":784},{"x":614,"y":772},{"x":619,"y":770},{"x":624,"y":758},{"x":628,"y":748},{"x":633,"y":744},{"x":638,"y":756},{"x":643,"y":740},{"x":648,"y":752},{"x":652,"y":746},{"x":657,"y":754},{"x":662,"y":742},{"x":668,"y":760},{"x":673,"y":752},{"x":678,"y":764},{"x":684,"y":770},{"x":690,"y":762},{"x":695,"y":775},{"x":698,"y":790},{"x":700,"y":866},{"x":703,"y":790},{"x":708,"y":796},{"x":713,"y":795},{"x":718,"y":790},{"x":723,"y":802},{"x":726,"y":812},{"x":729,"y":904},{"x":732,"y":812},{"x":737,"y":800},{"x":742,"y":808},{"x":748,"y":798},{"x":754,"y":812},{"x":760,"y":802},{"x":766,"y":796},{"x":771,"y":795},{"x":776,"y":805},{"x":782,"y":798},{"x":788,"y":812},{"x":793,"y":808},{"x":798,"y":800},{"x":804,"y":815},{"x":810,"y":802},{"x":815,"y":800},{"x":820,"y":814},{"x":826,"y":796},{"x":832,"y":808},{"x":838,"y":800},{"x":844,"y":800},{"x":850,"y":808},{"x":856,"y":796},{"x":862,"y":812},{"x":868,"y":804},{"x":873,"y":770},{"x":878,"y":790},{"x":884,"y":806},{"x":890,"y":798},{"x":896,"y":812},{"x":902,"y":789},{"x":908,"y":800},{"x":914,"y":792},{"x":920,"y":806},{"x":926,"y":798},{"x":932,"y":790},{"x":938,"y":783},{"x":944,"y":800},{"x":950,"y":792},{"x":956,"y":806},{"x":962,"y":798},{"x":968,"y":812},{"x":975,"y":802},{"x":980,"y":808},{"x":986,"y":800},{"x":992,"y":812},{"x":998,"y":808},{"x":1002,"y":866},{"x":1005,"y":810},{"x":1010,"y":800},{"x":1014,"y":812},{"x":1019,"y":802},{"x":1024,"y":816},{"x":1030,"y":806},{"x":1036,"y":812},{"x":1042,"y":800},{"x":1048,"y":808},{"x":1054,"y":816},{"x":1060,"y":820},{"x":1064,"y":859},{"x":1067,"y":816},{"x":1072,"y":808},{"x":1077,"y":795},{"x":1082,"y":812},{"x":1088,"y":822},{"x":1094,"y":818},{"x":1100,"y":830},{"x":1106,"y":827},{"x":1112,"y":840},{"x":1118,"y":836},{"x":1124,"y":850},{"x":1130,"y":846},{"x":1135,"y":859},{"x":1140,"y":852},{"x":1145,"y":872},{"x":1150,"y":898},{"x":1153,"y":870},{"x":1158,"y":856},{"x":1164,"y":846},{"x":1168,"y":860},{"x":1172,"y":870},{"x":1175,"y":880},{"x":1177,"y":968},{"x":1180,"y":880},{"x":1186,"y":872},{"x":1192,"y":880},{"x":1198,"y":892},{"x":1203,"y":886},{"x":1208,"y":898},{"x":1215,"y":898},{"x":1220,"y":904},{"x":1226,"y":896},{"x":1232,"y":910},{"x":1238,"y":906},{"x":1244,"y":918},{"x":1250,"y":912},{"x":1256,"y":926},{"x":1262,"y":920},{"x":1268,"y":932},{"x":1274,"y":926},{"x":1280,"y":940},{"x":1286,"y":950},{"x":1292,"y":946},{"x":1296,"y":968},{"x":1300,"y":958},{"x":1305,"y":952},{"x":1310,"y":944},{"x":1316,"y":948},{"x":1320,"y":936},{"x":1326,"y":940},{"x":1332,"y":928},{"x":1338,"y":936},{"x":1344,"y":924},{"x":1350,"y":918},{"x":1356,"y":912},{"x":1362,"y":920},{"x":1368,"y":906},{"x":1374,"y":912},{"x":1380,"y":904},{"x":1386,"y":910},{"x":1392,"y":898},{"x":1398,"y":904},{"x":1404,"y":896},{"x":1410,"y":892},{"x":1416,"y":902},{"x":1422,"y":890},{"x":1428,"y":898},{"x":1432,"y":892},{"x":1435,"y":962},{"x":1438,"y":900},{"x":1442,"y":890},{"x":1448,"y":884},{"x":1454,"y":896},{"x":1460,"y":888},{"x":1466,"y":898},{"x":1472,"y":892},{"x":1478,"y":902},{"x":1484,"y":896},{"x":1490,"y":906},{"x":1494,"y":949},{"x":1498,"y":906},{"x":1502,"y":898},{"x":1508,"y":900},{"x":1514,"y":912},{"x":1520,"y":918},{"x":1526,"y":930},{"x":1532,"y":936},{"x":1538,"y":940},{"x":1544,"y":944},{"x":1550,"y":950},{"x":1556,"y":958},{"x":1562,"y":962},{"x":1568,"y":958},{"x":1573,"y":1007},{"x":1576,"y":960},{"x":1582,"y":952},{"x":1588,"y":949},{"x":1594,"y":956},{"x":1598,"y":964},{"x":1601,"y":1058},{"x":1604,"y":970},{"x":1610,"y":966},{"x":1616,"y":975},{"x":1622,"y":972},{"x":1628,"y":984},{"x":1634,"y":980},{"x":1640,"y":988},{"x":1646,"y":984},{"x":1652,"y":996},{"x":1658,"y":992},{"x":1664,"y":1002},{"x":1670,"y":998},{"x":1676,"y":1013},{"x":1682,"y":1008},{"x":1688,"y":1018},{"x":1694,"y":1012},{"x":1700,"y":1026},{"x":1706,"y":1020},{"x":1712,"y":1030},{"x":1718,"y":1024},{"x":1724,"y":1036},{"x":1730,"y":1030},{"x":1736,"y":1042},{"x":1742,"y":1034},{"x":1748,"y":1046},{"x":1754,"y":1040},{"x":1760,"y":1052},{"x":1766,"y":1044},{"x":1772,"y":1056},{"x":1778,"y":1048},{"x":1784,"y":1064},{"x":1790,"y":1050},{"x":1796,"y":1045},{"x":1800,"y":1040}],
"p4b": [{"x":150,"y":475},{"x":155,"y":468},{"x":160,"y":478},{"x":165,"y":470},{"x":171,"y":475},{"x":176,"y":486},{"x":181,"y":480},{"x":186,"y":495},{"x":191,"y":492},{"x":196,"y":500},{"x":201,"y":553},{"x":205,"y":600},{"x":208,"y":630},{"x":212,"y":720},{"x":215,"y":800},{"x":217,"y":872},{"x":220,"y":810},{"x":224,"y":693},{"x":228,"y":640},{"x":231,"y":610},{"x":234,"y":591},{"x":238,"y":575},{"x":242,"y":566},{"x":246,"y":580},{"x":250,"y":604},{"x":253,"y":612},{"x":256,"y":719},{"x":258,"y":640},{"x":261,"y":660},{"x":264,"y":720},{"x":267,"y":775},{"x":270,"y":820},{"x":273,"y":845},{"x":275,"y":860},{"x":278,"y":852},{"x":280,"y":834},{"x":284,"y":800},{"x":288,"y":750},{"x":291,"y":706},{"x":295,"y":670},{"x":299,"y":640},{"x":302,"y":617},{"x":306,"y":596},{"x":310,"y":580},{"x":314,"y":572},{"x":317,"y":566},{"x":322,"y":555},{"x":328,"y":540},{"x":333,"y":530},{"x":338,"y":526},{"x":342,"y":535},{"x":346,"y":521},{"x":352,"y":528},{"x":358,"y":522},{"x":363,"y":532},{"x":369,"y":540},{"x":374,"y":550},{"x":379,"y":556},{"x":383,"y":566},{"x":387,"y":578},{"x":391,"y":582},{"x":394,"y":572},{"x":398,"y":553},{"x":403,"y":540},{"x":408,"y":526},{"x":413,"y":514},{"x":418,"y":505},{"x":424,"y":498},{"x":430,"y":490},{"x":435,"y":489},{"x":440,"y":475},{"x":445,"y":470},{"x":449,"y":463},{"x":453,"y":480},{"x":458,"y":482},{"x":464,"y":489},{"x":469,"y":478},{"x":474,"y":494},{"x":480,"y":496},{"x":486,"y":502},{"x":491,"y":490},{"x":496,"y":500},{"x":502,"y":496},{"x":508,"y":502},{"x":513,"y":494},{"x":519,"y":500},{"x":525,"y":492},{"x":530,"y":495},{"x":535,"y":490},{"x":540,"y":496},{"x":544,"y":500},{"x":546,"y":553},{"x":548,"y":500},{"x":552,"y":494},{"x":558,"y":489},{"x":564,"y":496},{"x":570,"y":492},{"x":576,"y":500},{"x":582,"y":494},{"x":589,"y":489},{"x":594,"y":496},{"x":600,"y":490},{"x":606,"y":482},{"x":611,"y":476},{"x":616,"y":468},{"x":622,"y":457},{"x":628,"y":464},{"x":634,"y":470},{"x":640,"y":462},{"x":647,"y":463},{"x":652,"y":470},{"x":658,"y":466},{"x":663,"y":474},{"x":669,"y":476},{"x":675,"y":468},{"x":680,"y":472},{"x":686,"y":466},{"x":692,"y":474},{"x":696,"y":480},{"x":700,"y":559},{"x":703,"y":476},{"x":708,"y":468},{"x":713,"y":474},{"x":718,"y":466},{"x":723,"y":470},{"x":726,"y":476},{"x":729,"y":571},{"x":732,"y":470},{"x":737,"y":464},{"x":742,"y":463},{"x":748,"y":470},{"x":754,"y":460},{"x":760,"y":466},{"x":766,"y":458},{"x":771,"y":463},{"x":777,"y":456},{"x":782,"y":462},{"x":788,"y":458},{"x":793,"y":463},{"x":799,"y":454},{"x":804,"y":458},{"x":810,"y":450},{"x":816,"y":456},{"x":822,"y":448},{"x":829,"y":450},{"x":835,"y":444},{"x":840,"y":452},{"x":846,"y":442},{"x":852,"y":448},{"x":858,"y":440},{"x":866,"y":438},{"x":872,"y":434},{"x":878,"y":440},{"x":884,"y":430},{"x":890,"y":436},{"x":896,"y":428},{"x":902,"y":425},{"x":908,"y":432},{"x":914,"y":426},{"x":920,"y":420},{"x":926,"y":428},{"x":932,"y":416},{"x":938,"y":418},{"x":944,"y":424},{"x":950,"y":414},{"x":956,"y":420},{"x":962,"y":418},{"x":968,"y":426},{"x":975,"y":425},{"x":980,"y":418},{"x":986,"y":424},{"x":992,"y":416},{"x":998,"y":422},{"x":1002,"y":495},{"x":1005,"y":420},{"x":1011,"y":418},{"x":1016,"y":412},{"x":1022,"y":420},{"x":1028,"y":410},{"x":1034,"y":416},{"x":1040,"y":408},{"x":1048,"y":412},{"x":1054,"y":418},{"x":1060,"y":410},{"x":1064,"y":450},{"x":1067,"y":414},{"x":1072,"y":404},{"x":1077,"y":399},{"x":1082,"y":410},{"x":1088,"y":418},{"x":1094,"y":412},{"x":1100,"y":420},{"x":1106,"y":425},{"x":1112,"y":418},{"x":1118,"y":424},{"x":1124,"y":412},{"x":1130,"y":418},{"x":1135,"y":412},{"x":1140,"y":420},{"x":1145,"y":430},{"x":1148,"y":489},{"x":1151,"y":430},{"x":1156,"y":420},{"x":1160,"y":428},{"x":1164,"y":438},{"x":1168,"y":432},{"x":1172,"y":440},{"x":1175,"y":446},{"x":1177,"y":553},{"x":1180,"y":446},{"x":1186,"y":444},{"x":1192,"y":450},{"x":1198,"y":456},{"x":1204,"y":452},{"x":1210,"y":460},{"x":1215,"y":463},{"x":1220,"y":458},{"x":1226,"y":468},{"x":1230,"y":462},{"x":1234,"y":470},{"x":1237,"y":578},{"x":1240,"y":470},{"x":1244,"y":466},{"x":1250,"y":476},{"x":1256,"y":470},{"x":1262,"y":478},{"x":1268,"y":472},{"x":1274,"y":482},{"x":1280,"y":476},{"x":1286,"y":484},{"x":1292,"y":478},{"x":1296,"y":489},{"x":1302,"y":482},{"x":1308,"y":490},{"x":1314,"y":484},{"x":1318,"y":482},{"x":1324,"y":476},{"x":1330,"y":470},{"x":1336,"y":466},{"x":1342,"y":463},{"x":1347,"y":456},{"x":1352,"y":448},{"x":1358,"y":443},{"x":1364,"y":440},{"x":1370,"y":434},{"x":1377,"y":424},{"x":1382,"y":430},{"x":1388,"y":426},{"x":1394,"y":432},{"x":1400,"y":426},{"x":1406,"y":431},{"x":1412,"y":424},{"x":1418,"y":428},{"x":1424,"y":420},{"x":1430,"y":424},{"x":1435,"y":412},{"x":1440,"y":420},{"x":1446,"y":414},{"x":1452,"y":408},{"x":1458,"y":414},{"x":1464,"y":406},{"x":1470,"y":410},{"x":1476,"y":404},{"x":1482,"y":410},{"x":1488,"y":402},{"x":1494,"y":408},{"x":1497,"y":443},{"x":1500,"y":402},{"x":1506,"y":398},{"x":1512,"y":406},{"x":1518,"y":400},{"x":1524,"y":404},{"x":1530,"y":405},{"x":1536,"y":400},{"x":1542,"y":406},{"x":1548,"y":398},{"x":1554,"y":404},{"x":1560,"y":398},{"x":1566,"y":406},{"x":1570,"y":412},{"x":1573,"y":456},{"x":1576,"y":408},{"x":1582,"y":400},{"x":1588,"y":399},{"x":1594,"y":404},{"x":1598,"y":400},{"x":1601,"y":507},{"x":1604,"y":402},{"x":1610,"y":405},{"x":1616,"y":408},{"x":1622,"y":410},{"x":1628,"y":406},{"x":1634,"y":414},{"x":1640,"y":410},{"x":1647,"y":412},{"x":1652,"y":418},{"x":1658,"y":412},{"x":1664,"y":420},{"x":1670,"y":416},{"x":1676,"y":424},{"x":1682,"y":418},{"x":1688,"y":414},{"x":1694,"y":420},{"x":1700,"y":416},{"x":1705,"y":418},{"x":1710,"y":424},{"x":1716,"y":418},{"x":1722,"y":426},{"x":1728,"y":420},{"x":1734,"y":424},{"x":1740,"y":416},{"x":1746,"y":420},{"x":1752,"y":412},{"x":1758,"y":416},{"x":1763,"y":405},{"x":1766,"y":379},{"x":1770,"y":400},{"x":1776,"y":408},{"x":1785,"y":406},{"x":1790,"y":400},{"x":1795,"y":404},{"x":1800,"y":399}]
},
"vconcat": [
{"spacing": 0, "hconcat": [
 {"width": 1, "height": 1, "data": {"values": []}, "mark": "point", "view": {"stroke": null}},
 {
 "width": 747, "height": 309,
 "resolve": {"axis": {"x": "independent", "y": "independent"}},
 "layer": [
  {"data": {"name": "p1k"}, "mark": {"type": "line", "color": "#111", "strokeWidth": 2},
   "encoding": {
    "x": {"field": "x", "type": "quantitative", "scale": {"domain": [150, 1800], "nice": false, "zero": false},
      "axis": {"orient": "bottom", "values": [200,400,600,800,1000,1200,1400,1600,1800], "tickSize": -7, "labelPadding": 13, "title": "Raman shift (cm⁻¹)", "titlePadding": 8}},
    "y": {"field": "y", "type": "quantitative", "scale": {"domain": [200, 700], "nice": false, "zero": false},
      "axis": {"orient": "left", "values": [200,220,240,260,280,300,320,340,360,380,400,420,440,460,480,500,520,540,560,580,600,620,640,660,680,700], "tickSize": {"condition": {"test": "datum.value % 100 === 0", "value": -7}, "value": -4}, "labelExpr": "datum.value % 100 === 0 ? datum.label : ''", "labelPadding": 29, "title": "Intensity", "titlePadding": 23}}
   }},
  {"data": {"name": "p1b"}, "mark": {"type": "line", "color": "#1414b4", "strokeWidth": 2},
   "encoding": {
    "x": {"field": "x", "type": "quantitative", "scale": {"domain": [150, 1800], "nice": false, "zero": false},
      "axis": {"orient": "top", "values": [200,400,600,800,1000,1200,1400,1600,1800], "tickSize": -7, "labels": false, "title": null}},
    "y": {"field": "y", "type": "quantitative", "scale": {"domain": [200, 700], "nice": false, "zero": false},
      "axis": {"orient": "right", "values": [200,220,240,260,280,300,320,340,360,380,400,420,440,460,480,500,520,540,560,580,600,620,640,660,680,700], "tickSize": {"condition": {"test": "datum.value % 100 === 0", "value": -7}, "value": -4}, "labels": false, "title": null}}
   }},
  {"data": {"values": [{"x": 1746, "y": 644, "t": "Artificial water"}]},
   "mark": {"type": "text", "align": "right", "baseline": "middle", "fontSize": 24, "color": "#111"},
   "encoding": {
    "x": {"field": "x", "type": "quantitative", "scale": {"domain": [150, 1800], "nice": false, "zero": false}, "axis": null},
    "y": {"field": "y", "type": "quantitative", "scale": {"domain": [200, 700], "nice": false, "zero": false}, "axis": null},
    "text": {"field": "t"}
   }}
 ]
}]},
{"spacing": 0, "hconcat": [
 {"width": 1, "height": 1, "data": {"values": []}, "mark": "point", "view": {"stroke": null}},
 {
 "width": 755, "height": 313,
 "resolve": {"axis": {"x": "independent", "y": "independent"}},
 "layer": [
  {"data": {"name": "p2k"}, "mark": {"type": "line", "color": "#111", "strokeWidth": 2},
   "encoding": {
    "x": {"field": "x", "type": "quantitative", "scale": {"domain": [150, 1800], "nice": false, "zero": false},
      "axis": {"orient": "bottom", "values": [200,400,600,800,1000,1200,1400,1600,1800], "tickSize": -7, "labelPadding": 13, "title": "Raman shift (cm⁻¹)", "titlePadding": 8}},
    "y": {"field": "y", "type": "quantitative", "scale": {"domain": [300, 800], "nice": false, "zero": false},
      "axis": {"orient": "left", "values": [300,320,340,360,380,400,420,440,460,480,500,520,540,560,580,600,620,640,660,680,700,720,740,760,780,800], "tickSize": {"condition": {"test": "datum.value % 100 === 0", "value": -7}, "value": -4}, "labelExpr": "datum.value % 100 === 0 ? datum.label : ''", "labelPadding": 29, "title": "Intensity", "titlePadding": 13.6}}
   }},
  {"data": {"name": "p2b"}, "mark": {"type": "line", "color": "#1414b4", "strokeWidth": 2},
   "encoding": {
    "x": {"field": "x", "type": "quantitative", "scale": {"domain": [150, 1800], "nice": false, "zero": false},
      "axis": {"orient": "top", "values": [200,400,600,800,1000,1200,1400,1600,1800], "tickSize": -7, "labels": false, "title": null}},
    "y": {"field": "y", "type": "quantitative", "scale": {"domain": [300, 800], "nice": false, "zero": false},
      "axis": {"orient": "right", "values": [300,320,340,360,380,400,420,440,460,480,500,520,540,560,580,600,620,640,660,680,700,720,740,760,780,800], "tickSize": {"condition": {"test": "datum.value % 100 === 0", "value": -7}, "value": -4}, "labels": false, "title": null}}
   }},
  {"data": {"values": [{"x": 1748, "y": 739, "t": "Ozone"}]},
   "mark": {"type": "text", "align": "right", "baseline": "middle", "fontSize": 24, "color": "#111"},
   "encoding": {
    "x": {"field": "x", "type": "quantitative", "scale": {"domain": [150, 1800], "nice": false, "zero": false}, "axis": null},
    "y": {"field": "y", "type": "quantitative", "scale": {"domain": [300, 800], "nice": false, "zero": false}, "axis": null},
    "text": {"field": "t"}
   }}
 ]
}]},
{"spacing": 0, "hconcat": [
 {"width": 1, "height": 1, "data": {"values": []}, "mark": "point", "view": {"stroke": null}},
 {
 "width": 761, "height": 315,
 "resolve": {"axis": {"x": "independent", "y": "independent"}},
 "layer": [
  {"data": {"name": "p3k"}, "mark": {"type": "line", "color": "#111", "strokeWidth": 2},
   "encoding": {
    "x": {"field": "x", "type": "quantitative", "scale": {"domain": [150, 1800], "nice": false, "zero": false},
      "axis": {"orient": "bottom", "values": [200,400,600,800,1000,1200,1400,1600,1800], "tickSize": -7, "labelPadding": 13, "title": "Raman shift (cm⁻¹)", "titlePadding": 8}},
    "y": {"field": "y", "type": "quantitative", "scale": {"domain": [300, 800], "nice": false, "zero": false},
      "axis": {"orient": "left", "values": [300,320,340,360,380,400,420,440,460,480,500,520,540,560,580,600,620,640,660,680,700,720,740,760,780,800], "tickSize": {"condition": {"test": "datum.value % 100 === 0", "value": -7}, "value": -4}, "labelExpr": "datum.value % 100 === 0 ? datum.label : ''", "labelPadding": 29, "title": "Intensity", "titlePadding": 11.2}}
   }},
  {"data": {"name": "p3b"}, "mark": {"type": "line", "color": "#1414b4", "strokeWidth": 2},
   "encoding": {
    "x": {"field": "x", "type": "quantitative", "scale": {"domain": [150, 1800], "nice": false, "zero": false},
      "axis": {"orient": "top", "values": [200,400,600,800,1000,1200,1400,1600,1800], "tickSize": -7, "labels": false, "title": null}},
    "y": {"field": "y", "type": "quantitative", "scale": {"domain": [300, 800], "nice": false, "zero": false},
      "axis": {"orient": "right", "values": [300,320,340,360,380,400,420,440,460,480,500,520,540,560,580,600,620,640,660,680,700,720,740,760,780,800], "tickSize": {"condition": {"test": "datum.value % 100 === 0", "value": -7}, "value": -4}, "labels": false, "title": null}}
   }},
  {"data": {"values": [{"x": 1744, "y": 740, "t": "NaClO"}]},
   "mark": {"type": "text", "align": "right", "baseline": "middle", "fontSize": 24, "color": "#111"},
   "encoding": {
    "x": {"field": "x", "type": "quantitative", "scale": {"domain": [150, 1800], "nice": false, "zero": false}, "axis": null},
    "y": {"field": "y", "type": "quantitative", "scale": {"domain": [300, 800], "nice": false, "zero": false}, "axis": null},
    "text": {"field": "t"}
   }}
 ]
}]},
{"spacing": 0, "hconcat": [
 {"width": 1, "height": 1, "data": {"values": []}, "mark": "point", "view": {"stroke": null}},
 {
 "width": 754, "height": 312,
 "resolve": {"axis": {"x": "independent", "y": "independent"}},
 "layer": [
  {"data": {"name": "p4k"}, "mark": {"type": "line", "color": "#111", "strokeWidth": 2},
   "encoding": {
    "x": {"field": "x", "type": "quantitative", "scale": {"domain": [150, 1800], "nice": false, "zero": false},
      "axis": {"orient": "bottom", "values": [200,400,600,800,1000,1200,1400,1600,1800], "tickSize": -7, "labelPadding": 13, "title": "Raman shift (cm⁻¹)", "titlePadding": 8}},
    "y": {"field": "y", "type": "quantitative", "scale": {"domain": [200, 1400], "nice": false, "zero": false},
      "axis": {"orient": "left", "values": [200,250,300,350,400,450,500,550,600,650,700,750,800,850,900,950,1000,1050,1100,1150,1200,1250,1300,1350,1400], "tickSize": {"condition": {"test": "datum.value % 200 === 0", "value": -7}, "value": -4}, "labelExpr": "datum.value % 200 === 0 ? datum.label : ''", "labelPadding": 29, "title": "Intensity", "titlePadding": 16.4}}
   }},
  {"data": {"name": "p4b"}, "mark": {"type": "line", "color": "#1414b4", "strokeWidth": 2},
   "encoding": {
    "x": {"field": "x", "type": "quantitative", "scale": {"domain": [150, 1800], "nice": false, "zero": false},
      "axis": {"orient": "top", "values": [200,400,600,800,1000,1200,1400,1600,1800], "tickSize": -7, "labels": false, "title": null}},
    "y": {"field": "y", "type": "quantitative", "scale": {"domain": [200, 1400], "nice": false, "zero": false},
      "axis": {"orient": "right", "values": [200,250,300,350,400,450,500,550,600,650,700,750,800,850,900,950,1000,1050,1100,1150,1200,1250,1300,1350,1400], "tickSize": {"condition": {"test": "datum.value % 200 === 0", "value": -7}, "value": -4}, "labels": false, "title": null}}
   }},
  {"data": {"values": [{"x": 1737, "y": 1250, "t": "Ca(ClO)₂"}]},
   "mark": {"type": "text", "align": "right", "baseline": "middle", "fontSize": 24, "color": "#111"},
   "encoding": {
    "x": {"field": "x", "type": "quantitative", "scale": {"domain": [150, 1800], "nice": false, "zero": false}, "axis": null},
    "y": {"field": "y", "type": "quantitative", "scale": {"domain": [200, 1400], "nice": false, "zero": false}, "axis": null},
    "text": {"field": "t"}
   }}
 ]
}]}
]
}
